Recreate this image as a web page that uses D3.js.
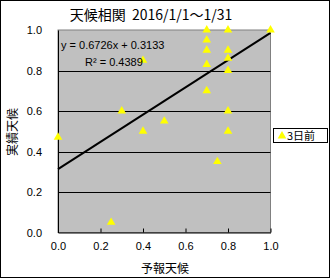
<!DOCTYPE html>
<html>
<head>
<meta charset="utf-8">
<script src="https://cdn.jsdelivr.net/npm/d3@7"></script>
<style>
  body { margin: 0; background: #fff; }
  text { font-family: "Liberation Sans", "Noto Sans CJK JP", sans-serif; fill: #000; }
  .jp { font-family: "Noto Sans CJK JP", sans-serif; }
</style>
</head>
<body>
<div id="chart"></div>
<script>
// forecast (x) vs actual (y), 2016/1/1-1/31, "3日前" series
var forecast = [0.0, 0.25, 0.3, 0.4, 0.4, 0.5, 0.7, 0.7, 0.7, 0.7, 0.7, 0.75, 0.8, 0.8, 0.8, 0.8, 0.8, 0.8, 1.0];
var actual   = [0.47, 0.05, 0.6, 0.5, 0.85, 0.55, 1.0, 0.95, 0.9, 0.83, 0.7, 0.35, 1.0, 0.9, 0.86, 0.8, 0.6, 0.5, 1.0];
var ticks = [0, 0.2, 0.4, 0.6, 0.8, 1.0];
var trend = { slope: 0.6726, intercept: 0.3133, r2: 0.4389 };
var seriesName = "3日前";

var width = 331, height = 279;
var plot = { left: 58, right: 270.5, top: 30, bottom: 232.5 };

var x = d3.scaleLinear().domain([0, 1]).range([plot.left, plot.right]);
var y = d3.scaleLinear().domain([0, 1]).range([plot.bottom, plot.top]);
var fmt = d3.format(".1f");

var svg = d3.select("#chart").append("svg")
  .attr("width", width)
  .attr("height", height);

// chart border
svg.append("rect")
  .attr("x", 0.5).attr("y", 0.5)
  .attr("width", 329).attr("height", 277)
  .attr("fill", "#fff").attr("stroke", "#000");

// plot area
svg.append("rect")
  .attr("x", plot.left).attr("y", plot.top)
  .attr("width", plot.right - plot.left).attr("height", plot.bottom - plot.top)
  .attr("fill", "#c0c0c0").attr("stroke", "#808080");

// gridlines
svg.append("g")
  .selectAll("line")
  .data(ticks.slice(1, -1))
  .enter().append("line")
  .attr("x1", plot.left).attr("x2", plot.right)
  .attr("y1", function (d) { return Math.round(y(d)) + 0.5; })
  .attr("y2", function (d) { return Math.round(y(d)) + 0.5; })
  .attr("stroke", "#000");

// axes
var xAxis = svg.append("g")
  .attr("transform", "translate(0," + plot.bottom + ")")
  .call(d3.axisBottom(x).tickValues(ticks).tickFormat(fmt).tickSizeInner(-4).tickSizeOuter(0).tickPadding(10));
var yAxis = svg.append("g")
  .attr("transform", "translate(" + plot.left + ",0)")
  .call(d3.axisLeft(y).tickValues(ticks).tickFormat(fmt).tickSizeInner(0).tickSizeOuter(0).tickPadding(16));
[xAxis, yAxis].forEach(function (a) {
  a.select(".domain").attr("stroke", "#000");
  a.selectAll(".tick line").attr("stroke", "#000");
  a.selectAll(".tick text").attr("font-size", 11).attr("font-family", "Liberation Sans, sans-serif");
});

// trend line
svg.append("line")
  .attr("x1", x(0)).attr("y1", y(trend.intercept))
  .attr("x2", x(1)).attr("y2", y(trend.slope + trend.intercept))
  .attr("stroke", "#000").attr("stroke-width", 2);

// points
var tri = d3.symbol().type(d3.symbolTriangle).size(32);
svg.append("g")
  .selectAll("path")
  .data(forecast.map(function (f, i) { return { f: f, a: actual[i] }; }))
  .enter().append("path")
  .attr("d", tri)
  .attr("transform", function (d) { return "translate(" + x(d.f) + "," + y(d.a) + ")"; })
  .attr("fill", "#ffff00");

// equation
svg.append("text")
  .attr("x", 61).attr("y", 49)
  .attr("font-size", 11)
  .text("y = " + trend.slope + "x + " + trend.intercept);
svg.append("text")
  .attr("x", 85).attr("y", 66)
  .attr("font-size", 11)
  .text("R² = " + trend.r2);

// title
svg.append("text")
  .attr("class", "jp")
  .attr("x", 151).attr("y", 20)
  .attr("text-anchor", "middle")
  .attr("font-size", 14)
  .style("white-space", "pre")
  .text("天候相関  2016/1/1～1/31");

// axis titles
svg.append("text")
  .attr("class", "jp")
  .attr("x", 165).attr("y", 273)
  .attr("text-anchor", "middle")
  .attr("font-size", 12)
  .text("予報天候");
svg.append("text")
  .attr("class", "jp")
  .attr("transform", "translate(17,132) rotate(-90)")
  .attr("text-anchor", "middle")
  .attr("font-size", 12)
  .text("実績天候");

// legend
var legend = svg.append("g").attr("transform", "translate(273,128)");
legend.append("rect")
  .attr("x", 0.5).attr("y", 0.5)
  .attr("width", 54).attr("height", 14)
  .attr("fill", "#fff").attr("stroke", "#000");
legend.append("path")
  .attr("d", tri)
  .attr("transform", "translate(9,8)")
  .attr("fill", "#ffff00");
legend.append("text")
  .attr("class", "jp")
  .attr("x", 14).attr("y", 12)
  .attr("font-size", 11)
  .text(seriesName);
</script>
</body>
</html>
